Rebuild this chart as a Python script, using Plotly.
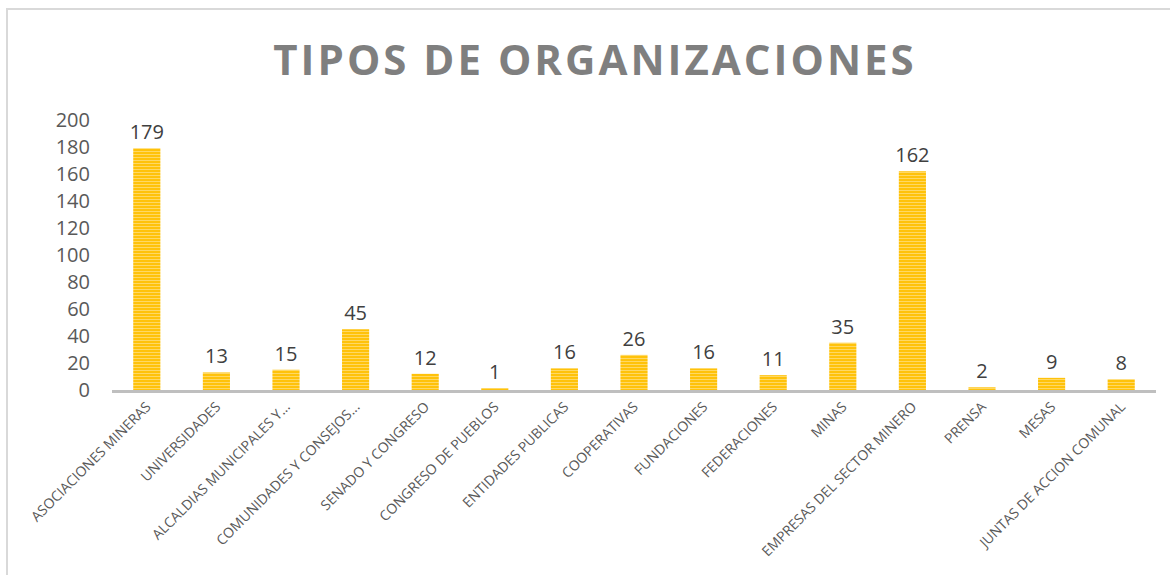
import plotly.graph_objects as go

# datos
categorias = [
    'ASOCIACIONES MINERAS', 'UNIVERSIDADES', 'ALCALDIAS MUNICIPALES Y...',
    'COMUNIDADES Y CONSEJOS...', 'SENADO Y CONGRESO', 'CONGRESO DE PUEBLOS',
    'ENTIDADES PUBLICAS', 'COOPERATIVAS', 'FUNDACIONES', 'FEDERACIONES',
    'MINAS', 'EMPRESAS DEL SECTOR MINERO', 'PRENSA', 'MESAS',
    'JUNTAS DE ACCION COMUNAL',
]
cantidades = [179, 13, 15, 45, 12, 1, 16, 26, 16, 11, 35, 162, 2, 9, 8]
y_ticks = [0, 20, 40, 60, 80, 100, 120, 140, 160, 180, 200]
titulo = 'TIPOS DE ORGANIZACIONES'

W, H = 1170, 575
M = dict(l=112, r=14, t=120, b=185)

fig = go.Figure()
fig.add_trace(go.Bar(
    x=categorias,
    y=cantidades,
    text=cantidades,
    textposition='outside',
    constraintext='none',
    textfont=dict(family='Open Sans', size=20, color='#404040'),
    cliponaxis=False,
    marker=dict(
        color='#FFC000',
        line_width=0,
        pattern=dict(shape='-', bgcolor='#FFC000', fgcolor='#FFF0C6',
                     size=3, solidity=0.4),
    ),
    hoverinfo='x+y',
))

# marco del grafico (solo se ven los bordes izq. y sup.)
pw = W - M['l'] - M['r']
ph = H - M['t'] - M['b']
fx0 = (7 - M['l']) / pw
fy1 = (H - M['b'] - 9) / ph
fig.add_shape(type='rect', xref='paper', yref='paper',
              x0=fx0, x1=1.2, y0=-1.0, y1=fy1,
              line=dict(color='#D9D9D9', width=2), layer='below')

fig.update_layout(
    width=W, height=H,
    margin=M,
    paper_bgcolor='white',
    plot_bgcolor='white',
    bargap=0.61,
    showlegend=False,
    title=dict(
        text=f'<span style="letter-spacing:3px">{titulo}</span>',
        font=dict(family='Open Sans', size=42, color='#7F7F7F', weight='bold'),
        x=595 / W, xanchor='center', xref='container',
        y=1 - 60 / H, yanchor='middle', yref='container',
    ),
    xaxis=dict(
        tickangle=-45,
        tickfont=dict(family='Open Sans', size=14, color='#595959'),
        showline=True, linecolor='#BFBFBF', linewidth=3,
        showgrid=False, ticks='',
    ),
    yaxis=dict(
        range=[0, 200],
        tickvals=y_ticks,
        tickfont=dict(family='Open Sans', size=20, color='#595959'),
        showgrid=False, zeroline=False, showline=False,
        ticks='', ticklabelstandoff=21,
    ),
)

# quitar el margen por defecto del body para que la figura empiece en (0,0)
fig.write_html('out.html', config={'displayModeBar': False},
               post_script="document.body.style.margin='0';")
